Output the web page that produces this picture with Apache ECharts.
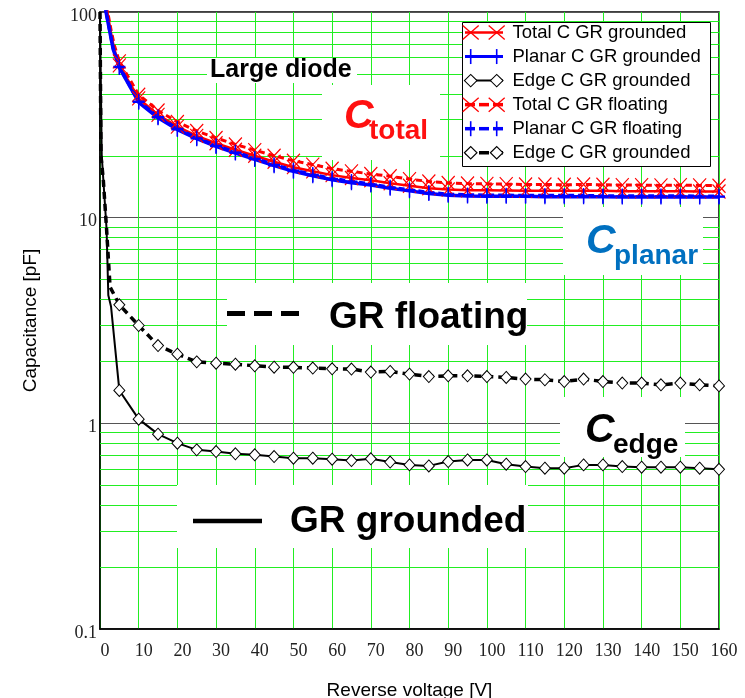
<!DOCTYPE html>
<html>
<head>
<meta charset="utf-8">
<script src="https://cdn.jsdelivr.net/npm/echarts@6/dist/echarts.min.js"></script>
<style>
  html, body { margin: 0; padding: 0; background: #fff; }
  #chart { width: 745px; height: 698px; }
</style>
</head>
<body>
<div id="chart"></div>
<script>
// Reverse voltage sweep points carrying markers (V)
const voltage = [5, 10, 15, 20, 25, 30, 35, 40, 45, 50, 55, 60, 65, 70, 75, 80,
                 85, 90, 95, 100, 105, 110, 115, 120, 125, 130, 135, 140, 145, 150, 155, 160];

// Capacitances in pF at the voltages above
const totalGrounded = [55.0, 38.0, 31.6, 27.7, 25.0, 23.0, 21.4, 20.0, 18.7, 17.6, 16.8, 16.1, 15.6, 15.2, 14.7, 14.3,
                       13.9, 13.7, 13.6, 13.6, 13.55, 13.5, 13.5, 13.5, 13.5, 13.5, 13.45, 13.45, 13.45, 13.45, 13.4, 13.4];
const planarGrounded = [53.7, 36.4, 30.6, 26.8, 24.2, 22.2, 20.6, 19.2, 17.9, 16.8, 16.0, 15.3, 14.8, 14.4, 13.9, 13.5,
                        13.1, 12.85, 12.75, 12.7, 12.7, 12.7, 12.65, 12.65, 12.65, 12.65, 12.6, 12.6, 12.6, 12.6, 12.6, 12.6];
const edgeGrounded = [1.445, 1.048, 0.886, 0.801, 0.743, 0.729, 0.711, 0.703, 0.689, 0.677, 0.677, 0.669, 0.659, 0.672, 0.648, 0.628,
                      0.621, 0.652, 0.664, 0.664, 0.633, 0.616, 0.605, 0.605, 0.628, 0.628, 0.616, 0.612, 0.612, 0.612, 0.605, 0.598];
const totalFloating = [57.5, 39.6, 33.2, 29.2, 26.4, 24.4, 22.7, 21.3, 20.0, 18.9, 18.1, 17.3, 16.8, 16.3, 15.9, 15.4,
                       15.0, 14.75, 14.65, 14.6, 14.55, 14.5, 14.5, 14.45, 14.5, 14.45, 14.4, 14.4, 14.35, 14.4, 14.35, 14.3];
const planarFloating = [54.2, 36.8, 30.9, 27.1, 24.4, 22.4, 20.8, 19.4, 18.1, 17.0, 16.2, 15.5, 15.0, 14.55, 14.05, 13.65,
                        13.25, 13.0, 12.9, 12.85, 12.85, 12.8, 12.8, 12.8, 12.8, 12.75, 12.75, 12.75, 12.75, 12.75, 12.7, 12.7];
const edgeFloating = [3.77, 2.99, 2.39, 2.17, 1.99, 1.96, 1.94, 1.905, 1.876, 1.872, 1.857, 1.842, 1.836, 1.775, 1.787, 1.735,
                      1.689, 1.702, 1.702, 1.689, 1.671, 1.641, 1.629, 1.597, 1.641, 1.597, 1.570, 1.570, 1.539, 1.570, 1.539, 1.521];

// Low-voltage onset measured without markers: [V, pF]
const leadTotalGrounded = [[1.0, 150], [1.9, 100], [2.8, 80], [3.6, 67]];
const leadPlanarGrounded = [[0.8, 150], [1.55, 100], [2.6, 79], [3.4, 66]];
const leadEdgeGrounded = [[0, 100], [0.45, 20], [1.7, 8.8], [2.15, 4.2], [2.85, 3.7]];
const leadTotalFloating = [[1.0, 150], [2.0, 100], [2.9, 81], [3.7, 69]];
const leadPlanarFloating = [[0.8, 150], [1.6, 100], [2.6, 80], [3.4, 67]];
const leadEdgeFloating = [[0, 100], [0.25, 20], [0.85, 15.3], [1.7, 8.8], [2.6, 4.6], [4.3, 4.0]];

// Minor decade grid values of the log axis
const minorGrid = [0.2, 0.3, 0.4, 0.5, 0.6, 0.7, 0.8, 0.9, 2, 3, 4, 5, 6, 7, 8, 9, 20, 30, 40, 50, 60, 70, 80, 90];

const seriesNames = ['Total C GR grounded', 'Planar C GR grounded', 'Edge C GR grounded',
                     'Total C GR floating', 'Planar C GR floating', 'Edge C GR grounded'];

const SANS = '"Liberation Sans", Arial, Helvetica, sans-serif';
const SERIF = '"Liberation Serif", "Times New Roman", serif';
const GREEN = '#22ee22';
const RED = '#ff0000';
const BLUE = '#0000ff';

const CROSS = 'path://M0,0L10,10M0,10L10,0';
const PLUS = 'path://M5,0L5,10M0,5L10,5';

function build(lead, values) {
  const pts = lead.map(p => ({ value: p, symbol: 'none' }));
  return pts.concat(voltage.map((v, i) => [v, values[i]]));
}

function curve(name, lead, values, color, width, dash, symbol, size, itemStyle) {
  return {
    name: name,
    type: 'line',
    data: build(lead, values),
    clip: true,
    symbol: symbol,
    symbolSize: size,
    showSymbol: true,
    lineStyle: { color: color, width: width, type: dash || 'solid' },
    itemStyle: itemStyle,
    emphasis: { disabled: true },
    z: 2
  };
}

const chart = echarts.init(document.getElementById('chart'), null, { renderer: 'canvas' });

// White blocks behind the annotations
const boxes = [
  [207, 58, 150, 25], [322, 85, 118, 75], [563, 207, 140, 68],
  [227, 283, 300, 62], [560, 397, 125, 60], [177, 485, 351, 63]
];

const graphics = [];
boxes.forEach(b => graphics.push({
  type: 'rect', z: 1.5, silent: true,
  shape: { x: b[0], y: b[1], width: b[2], height: b[3] },
  style: { fill: '#fff' }
}));

function label(text, x, y, font, fill) {
  return {
    type: 'text', z: 1.6, silent: true, x: x, y: y,
    style: { text: text, font: font, fill: fill || '#000',
             textAlign: 'left', textVerticalAlign: 'middle', align: 'left', verticalAlign: 'middle' }
  };
}

graphics.push(label('Large diode', 210, 70, 'bold 25px ' + SANS));
graphics.push(label('C', 344, 117, 'italic bold 41px ' + SANS, '#ff1010'));
graphics.push(label('total', 369, 131.5, 'bold 28px ' + SANS, '#ff1010'));
graphics.push(label('C', 586, 242, 'italic bold 41px ' + SANS, '#0070c0'));
graphics.push(label('planar', 614, 256, 'bold 28px ' + SANS, '#0070c0'));
graphics.push(label('C', 585, 431, 'italic bold 41px ' + SANS));
graphics.push(label('edge', 613, 445.5, 'bold 28px ' + SANS));
graphics.push(label('GR floating', 329, 318, 'bold 37px ' + SANS));
graphics.push(label('GR grounded', 290, 522, 'bold 37px ' + SANS));

// Line-style keys next to the GR captions
graphics.push({
  type: 'line', z: 1.6, silent: true,
  shape: { x1: 227, y1: 313.5, x2: 300, y2: 313.5 },
  style: { stroke: '#000', lineWidth: 5, lineDash: [18, 9] }
});
graphics.push({
  type: 'line', z: 1.6, silent: true,
  shape: { x1: 193, y1: 521, x2: 262, y2: 521 },
  style: { stroke: '#000', lineWidth: 4.5 }
});

// Legend box
graphics.push({
  type: 'rect', z: 5, silent: true,
  shape: { x: 462.5, y: 22.5, width: 248, height: 144 },
  style: { fill: '#fff', stroke: '#000', lineWidth: 1 }
});

const legendKeys = [
  { color: RED, width: 2.5, dashed: false, mark: 'x' },
  { color: BLUE, width: 3, dashed: false, mark: '+' },
  { color: '#000', width: 2, dashed: false, mark: 'd' },
  { color: RED, width: 3.5, dashed: true, mark: 'x' },
  { color: BLUE, width: 3.5, dashed: true, mark: '+' },
  { color: '#000', width: 3.5, dashed: true, mark: 'd' }
];

legendKeys.forEach((k, i) => {
  const cy = 32.5 + i * 24.05;
  const segs = k.dashed ? [[465, 475], [479, 489], [493, 503]] : [[465, 503]];
  segs.forEach(s => graphics.push({
    type: 'line', z: 6, silent: true,
    shape: { x1: s[0], y1: cy, x2: s[1], y2: cy },
    style: { stroke: k.color, lineWidth: k.width }
  }));
  [470.7, 496.7].forEach(mx => {
    if (k.mark === 'x') {
      graphics.push({ type: 'line', z: 7, silent: true,
        shape: { x1: mx - 8, y1: cy - 7, x2: mx + 8, y2: cy + 7 }, style: { stroke: k.color, lineWidth: 1.3 } });
      graphics.push({ type: 'line', z: 7, silent: true,
        shape: { x1: mx - 8, y1: cy + 7, x2: mx + 8, y2: cy - 7 }, style: { stroke: k.color, lineWidth: 1.3 } });
    } else if (k.mark === '+') {
      graphics.push({ type: 'line', z: 7, silent: true,
        shape: { x1: mx, y1: cy - 7.5, x2: mx, y2: cy + 7.5 }, style: { stroke: k.color, lineWidth: 1.6 } });
    } else {
      graphics.push({ type: 'polygon', z: 7, silent: true,
        shape: { points: [[mx - 6.3, cy], [mx, cy - 6.2], [mx + 6.3, cy], [mx, cy + 6.2]] },
        style: { fill: '#fff', stroke: '#000', lineWidth: 1.1 } });
    }
  });
  graphics.push({
    type: 'text', z: 7, silent: true, x: 512.5, y: cy + 0.5,
    style: { text: seriesNames[i], font: '18.5px ' + SANS, fill: '#000',
             textAlign: 'left', textVerticalAlign: 'middle', align: 'left', verticalAlign: 'middle' }
  });
});

const option = {
  animation: false,
  backgroundColor: '#fff',
  grid: {
    left: 100, right: 26, top: 12, bottom: 69,
    outerBoundsMode: 'none', containLabel: false,
    show: true, borderColor: '#000', borderWidth: 1.5, backgroundColor: 'transparent'
  },
  xAxis: {
    type: 'value', min: 0, max: 160, interval: 10,
    name: 'Reverse voltage [V]', nameLocation: 'middle', nameGap: 52,
    nameTextStyle: { fontFamily: SANS, fontSize: 19, color: '#000' },
    axisLine: { show: true, lineStyle: { color: '#000', width: 1.5 } },
    axisTick: { show: false },
    axisLabel: { fontFamily: SERIF, fontSize: 18, color: '#222', margin: 13, padding: [0, 0, 0, 10] },
    splitLine: { show: true, lineStyle: { color: GREEN, width: 1 } }
  },
  yAxis: {
    type: 'log', logBase: 10, min: 0.1, max: 100,
    name: 'Capacitance [pF]', nameLocation: 'middle', nameGap: 60,
    nameTextStyle: { fontFamily: SANS, fontSize: 19, color: '#000' },
    axisLine: { show: true, lineStyle: { color: '#000', width: 1.5 } },
    axisTick: { show: false },
    axisLabel: {
      margin: 3,
      formatter: v => '{v|' + v + '}',
      rich: { v: { fontFamily: SERIF, fontSize: 18, color: '#222', padding: [8, 0, 0, 0] } }
    },
    splitLine: { show: true, lineStyle: { color: '#555', width: 1 } }
  },
  graphic: graphics,
  series: [
    {
      name: 'minor-grid', type: 'line', data: [], z: 1, silent: true,
      markLine: {
        z: 1, silent: true, symbol: ['none', 'none'], animation: false,
        label: { show: false },
        lineStyle: { color: GREEN, type: 'solid', width: 1 },
        emphasis: { disabled: true },
        data: minorGrid.map(v => ({ yAxis: v }))
      }
    },
    curve(seriesNames[0], leadTotalGrounded, totalGrounded, RED, 2.5, null, CROSS, [13, 14],
          { color: RED, borderColor: RED, borderWidth: 1.2 }),
    curve(seriesNames[1], leadPlanarGrounded, planarGrounded, BLUE, 3.5, null, PLUS, [12, 15],
          { color: BLUE, borderColor: BLUE, borderWidth: 1.5 }),
    curve(seriesNames[2], leadEdgeGrounded, edgeGrounded, '#000', 2, null, 'diamond', [11, 12],
          { color: '#fff', borderColor: '#000', borderWidth: 1 }),
    curve(seriesNames[3], leadTotalFloating, totalFloating, RED, 3, [6, 4], CROSS, [13, 14],
          { color: RED, borderColor: RED, borderWidth: 1.2 }),
    curve(seriesNames[4], leadPlanarFloating, planarFloating, BLUE, 3.5, [6, 4], PLUS, [12, 15],
          { color: BLUE, borderColor: BLUE, borderWidth: 1.5 }),
    curve(seriesNames[5], leadEdgeFloating, edgeFloating, '#000', 3.5, [7, 5], 'diamond', [11, 12],
          { color: '#fff', borderColor: '#000', borderWidth: 1 })
  ]
};

chart.setOption(option);
</script>
</body>
</html>
